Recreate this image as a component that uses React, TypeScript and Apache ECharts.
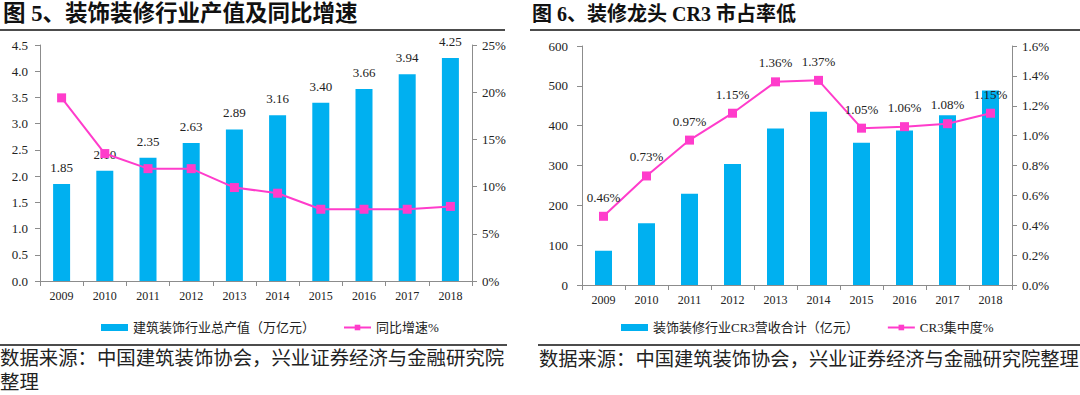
import React, { useEffect, useRef } from "react";
import * as echarts from "echarts";

const years = ["2009", "2010", "2011", "2012", "2013", "2014", "2015", "2016", "2017", "2018"];
const outputValue = [1.85, 2.1, 2.35, 2.63, 2.89, 3.16, 3.4, 3.66, 3.94, 4.25];
const outputGrowth = [19.4, 13.5, 11.9, 11.9, 9.9, 9.3, 7.6, 7.6, 7.6, 7.9];
const cr3Revenue = [86, 155, 229, 304, 393, 435, 357, 388, 426, 488];
const cr3Share = [0.46, 0.73, 0.97, 1.15, 1.36, 1.37, 1.05, 1.06, 1.08, 1.15];

const title1 = "图 5、装饰装修行业产值及同比增速";
const title2 = "图 6、装修龙头 CR3 市占率低";
const source1a = "数据来源：中国建筑装饰协会，兴业证券经济与金融研究院";
const source1b = "整理";
const source2 = "数据来源：中国建筑装饰协会，兴业证券经济与金融研究院整理";
const barName1 = "建筑装饰行业总产值（万亿元）";
const lineName1 = "同比增速%";
const barName2 = "装饰装修行业CR3营收合计（亿元）";
const lineName2 = "CR3集中度%";

const BAR = "#00B0F0";
const LINE = "#FF3CCB";
const AXIS = "#8C8C8C";
const TXT = "#222";
const SERIF = "'Liberation Serif', 'Times New Roman', serif";
const CJK = "'Liberation Serif', 'Noto Sans CJK SC', serif";

export default function App() {
  const ref = useRef<HTMLDivElement>(null);
  useEffect(() => {
    document.body.style.margin = "0";
    const chart = echarts.init(ref.current!, undefined, { renderer: "svg" });
    const axisLine = { show: true, lineStyle: { color: AXIS, width: 1 } };
    const catAxis = (gi: number, margin: number) => ({
      type: "category",
      gridIndex: gi,
      data: years,
      axisLine,
      axisTick: { show: true, length: 5, lineStyle: { color: AXIS }, alignWithLabel: false },
      axisLabel: { color: TXT, fontFamily: SERIF, fontSize: 12, margin },
    });
    const valAxis = (gi: number, max: number, interval: number, fmt: (v: number) => string, pos: string, margin: number) => ({
      type: "value",
      gridIndex: gi,
      min: 0,
      max,
      interval,
      position: pos,
      splitLine: { show: false },
      axisLine,
      axisTick: { show: true, length: 5, lineStyle: { color: AXIS } },
      axisLabel: { color: TXT, fontFamily: SERIF, fontSize: 13, margin, formatter: fmt },
    });
    const legendBase = {
      itemWidth: 27,
      itemHeight: 7,
      itemGap: 28,
      top: 316,
      textStyle: { color: TXT, fontFamily: CJK, fontSize: 13 },
    };
    chart.setOption({
      animation: false,
      grid: [
        { left: 40, right: 608, top: 45, bottom: 114 },
        { left: 582, right: 68, top: 46, bottom: 110 },
      ],
      xAxis: [catAxis(0, 9), catAxis(1, 9)],
      yAxis: [
        valAxis(0, 4.5, 0.5, (v) => v.toFixed(1), "left", 12),
        valAxis(0, 25, 5, (v) => v + "%", "right", 10),
        valAxis(1, 600, 100, (v) => String(v), "left", 14),
        valAxis(1, 1.6, 0.2, (v) => v.toFixed(1) + "%", "right", 10),
      ],
      legend: [
        { ...legendBase, data: [{ name: barName1, icon: "rect" }, lineName1], left: 96 },
        { ...legendBase, data: [{ name: barName2, icon: "rect" }, lineName2], left: 616 },
      ],
      series: [
        {
          name: barName1,
          type: "bar",
          xAxisIndex: 0,
          yAxisIndex: 0,
          data: outputValue,
          barWidth: 17,
          itemStyle: { color: BAR },
          label: {
            show: true,
            position: "top",
            distance: 10,
            color: TXT,
            fontFamily: SERIF,
            fontSize: 13,
            formatter: (p: any) => p.value.toFixed(2),
          },
        },
        {
          name: lineName1,
          type: "line",
          xAxisIndex: 0,
          yAxisIndex: 1,
          data: outputGrowth,
          symbol: "rect",
          symbolSize: 9,
          lineStyle: { color: LINE, width: 2 },
          itemStyle: { color: LINE },
        },
        {
          name: barName2,
          type: "bar",
          xAxisIndex: 1,
          yAxisIndex: 2,
          data: cr3Revenue,
          barWidth: 17,
          itemStyle: { color: BAR },
        },
        {
          name: lineName2,
          type: "line",
          xAxisIndex: 1,
          yAxisIndex: 3,
          data: cr3Share,
          symbol: "rect",
          symbolSize: 9,
          lineStyle: { color: LINE, width: 2 },
          itemStyle: { color: LINE },
          label: {
            show: true,
            position: "top",
            distance: 8,
            color: TXT,
            fontFamily: SERIF,
            fontSize: 13,
            formatter: (p: any) => p.value.toFixed(2) + "%",
          },
        },
      ],
      graphic: [
        { type: "text", left: 3, top: 2, style: { text: title1, fill: "#111", font: "bold 22.5px " + CJK } },
        { type: "text", left: 532, top: 4, style: { text: title2, fill: "#111", font: "bold 20px " + CJK } },
        { type: "line", shape: { x1: 0, y1: 30, x2: 505, y2: 30 }, style: { stroke: "#111", lineWidth: 1.5 } },
        { type: "line", shape: { x1: 530, y1: 30, x2: 1080, y2: 30 }, style: { stroke: "#111", lineWidth: 1.5 } },
        { type: "line", shape: { x1: 0, y1: 345, x2: 507, y2: 345 }, style: { stroke: "#111", lineWidth: 1.5 } },
        { type: "line", shape: { x1: 538, y1: 345, x2: 1080, y2: 345 }, style: { stroke: "#111", lineWidth: 1.5 } },
        { type: "text", left: 0, top: 349, style: { text: source1a, fill: "#222", font: "19.4px " + CJK } },
        { type: "text", left: 0, top: 373, style: { text: source1b, fill: "#222", font: "19.4px " + CJK } },
        { type: "text", left: 539, top: 350, style: { text: source2, fill: "#222", font: "19.3px " + CJK } },
      ],
    });
    return () => chart.dispose();
  }, []);
  return <div ref={ref} style={{ width: 1080, height: 395 }} />;
}
